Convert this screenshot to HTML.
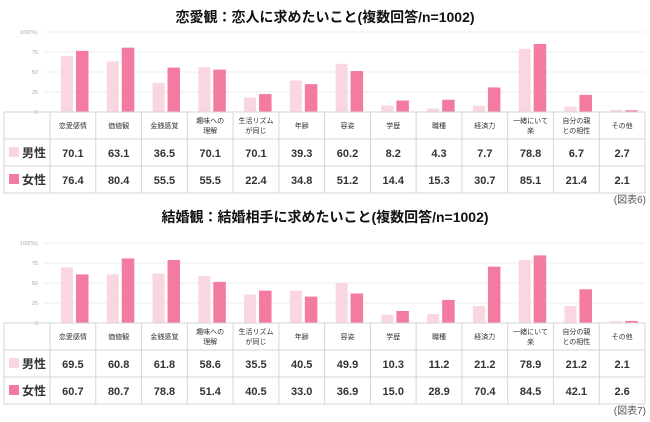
<!DOCTYPE html>
<html><head><meta charset="utf-8">
<style>
body{margin:0;background:#fff;width:650px;height:417px;overflow:hidden;font-family:"Liberation Sans","Noto Sans CJK JP",sans-serif;}
svg text{font-family:"Liberation Sans","Noto Sans CJK JP",sans-serif;}
</style></head>
<body>
<svg id="c" width="650" height="417"></svg>
<script>
const categories=["恋愛感情","価値観","金銭感覚","趣味への|理解","生活リズム|が同じ","年齢","容姿","学歴","職種","経済力","一緒にいて|楽","自分の親|との相性","その他"];
const tickLabels=["0","25","50","75","100(%)"];
const tickValues=[0,25,50,75,100];
const love_maleBars=[70.1,63.1,36.5,56,18,39.3,60.2,8.2,4.3,7.7,78.8,6.7,2.7];
const love_femaleBars=[76.4,80.4,55.5,53,22.4,34.8,51.2,14.4,15.3,30.7,85.1,21.4,2.1];
const love_maleLabels=["70.1","63.1","36.5","70.1","70.1","39.3","60.2","8.2","4.3","7.7","78.8","6.7","2.7"];
const love_femaleLabels=["76.4","80.4","55.5","55.5","22.4","34.8","51.2","14.4","15.3","30.7","85.1","21.4","2.1"];
const mar_maleBars=[69.5,60.8,61.8,58.6,35.5,40.5,49.9,10.3,11.2,21.2,78.9,21.2,2.1];
const mar_femaleBars=[60.7,80.7,78.8,51.4,40.5,33.0,36.9,15.0,28.9,70.4,84.5,42.1,2.6];
const mar_maleLabels=["69.5","60.8","61.8","58.6","35.5","40.5","49.9","10.3","11.2","21.2","78.9","21.2","2.1"];
const mar_femaleLabels=["60.7","80.7","78.8","51.4","40.5","33.0","36.9","15.0","28.9","70.4","84.5","42.1","2.6"];

const NS="http://www.w3.org/2000/svg";
const svg=document.getElementById('c');
const LIGHT="#fad6e1",DARK="#f27b9f";
function mk(tag,attrs,parent){const e=document.createElementNS(NS,tag);for(const k in attrs)e.setAttribute(k,attrs[k]);(parent||svg).appendChild(e);return e;}
const x0=50,colW=(645-50)/13;
function drawChart(prefix,title,fig,top,titleY,maleBars,femaleBars,maleLabels,femaleLabels){
  const g=mk('g',{});
  
  
  const t=mk('text',{x:325,y:titleY,'text-anchor':'middle','font-size':14,'font-weight':'bold',fill:'#111'},g);
  t.textContent=title;
  
  
  const yBase=top+112, yTop=top+32;
  const y=v=>yBase-(v/100)*(yBase-yTop);
  tickValues.forEach((v,i)=>{
    const l=mk('line',{x1:44,x2:645,y1:y(v),y2:y(v),stroke:'#eeeeee','stroke-width':1},g);
    
    
    const tx=mk('text',{x:i==4?20:38,y:y(v)+2,'font-size':5.5,fill:'#aaa','text-anchor':i==4?'start':'end'},g);
    tx.textContent=tickLabels[i];
    
    
  });
  categories.forEach((c,i)=>{
    const cx=x0+colW*i;
    const b1=mk('rect',{x:cx+11,y:y(maleBars[i]),width:12,height:yBase-y(maleBars[i]),fill:LIGHT},g);
    
    
    const b2=mk('rect',{x:cx+26,y:y(femaleBars[i]),width:12.5,height:yBase-y(femaleBars[i]),fill:DARK},g);
    
    
  });
  const tt=yBase, rh=27;
  const tb=mk('rect',{x:4,y:tt,width:641,height:rh*3,fill:'none',stroke:'#d6d6d6'},g);
  
  
  for(let r=1;r<3;r++)mk('line',{x1:4,x2:645,y1:tt+rh*r,y2:tt+rh*r,stroke:'#d6d6d6'},g);
  for(let i=0;i<13;i++)mk('line',{x1:x0+colW*i,x2:x0+colW*i,y1:tt,y2:tt+rh*3,stroke:'#d6d6d6'},g);
  categories.forEach((c,i)=>{
    const cx=x0+colW*i+colW/2;
    const parts=c.split('|');
    parts.forEach((p,j)=>{
      const ty=parts.length==1?tt+16:tt+11+j*10;
      const e=mk('text',{x:cx,y:ty,'text-anchor':'middle','font-size':7,fill:'#333'},g);
      e.textContent=p;
      
      
    });
    const m=mk('text',{x:cx,y:tt+rh+18,'text-anchor':'middle','font-size':11,'font-weight':'bold',fill:'#333'},g);
    m.textContent=maleLabels[i];
    
    
    const f=mk('text',{x:cx,y:tt+rh*2+18,'text-anchor':'middle','font-size':11,'font-weight':'bold',fill:'#333'},g);
    f.textContent=femaleLabels[i];
    
    
  });
  [["男性",LIGHT],["女性",DARK]].forEach((s,j)=>{
    const ry=tt+rh*(j+1);
    const sw=mk('rect',{x:9,y:ry+8,width:10,height:10,fill:s[1]},g);
    
    
    const lt=mk('text',{x:22,y:ry+18,'font-size':12,'font-weight':'bold',fill:'#333'},g);
    lt.textContent=s[0];
    
    
  });
  const fg=mk('text',{x:646,y:tt+rh*3+10,'text-anchor':'end','font-size':10,fill:'#555'},g);
  fg.textContent=fig;
  
  
}
drawChart('love','恋愛観：恋人に求めたいこと(複数回答/n=1002)','(図表6)',0,22,love_maleBars,love_femaleBars,love_maleLabels,love_femaleLabels);
drawChart('marriage','結婚観：結婚相手に求めたいこと(複数回答/n=1002)','(図表7)',211,222,mar_maleBars,mar_femaleBars,mar_maleLabels,mar_femaleLabels);
</script>
</body></html>
